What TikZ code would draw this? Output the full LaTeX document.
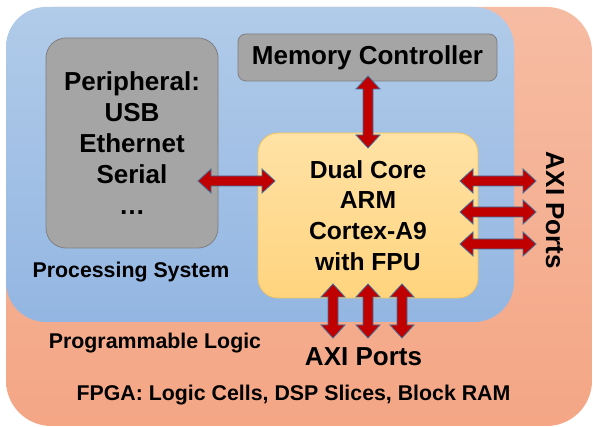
\documentclass[tikz,border=0pt]{standalone}
\usepackage{fontspec}
\setmainfont{Liberation Sans}
\usetikzlibrary{calc}

\definecolor{plorangeoben}{HTML}{F6BCA3}
\definecolor{plorangeunten}{HTML}{F4A685}
\definecolor{psblauoben}{HTML}{B1CBE9}
\definecolor{psblauunten}{HTML}{93B6E2}
\definecolor{boxgrau}{HTML}{A5A5A5}
\definecolor{boxrand}{HTML}{7F7F7F}
\definecolor{cpugelboben}{HTML}{FFE2A6}
\definecolor{cpugelbunten}{HTML}{FFD47E}
\definecolor{cpurand}{HTML}{F2C45E}
\definecolor{pfeilrot}{HTML}{C00000}
\definecolor{pfeilrand}{HTML}{41719C}

\newcommand{\grossfont}{\fontsize{19.5}{23.25}\selectfont\bfseries}
\newcommand{\kleinfont}{\fontsize{16}{19}\selectfont\bfseries}

\tikzset{
  graubox/.style={draw=boxrand, line width=0.6pt, fill=boxgrau, align=center, font=\grossfont},
  cpubox/.style={draw=cpurand, line width=0.6pt, top color=cpugelboben, bottom color=cpugelbunten,
    rounded corners=15pt, align=center, font=\fontsize{18.5}{23}\selectfont\bfseries},
  pfeil/.style={draw=pfeilrand, fill=pfeilrot, line width=0.6pt, line join=miter},
  label/.style={font=\kleinfont},
}

% Blockpfeil mit zwei Spitzen zwischen zwei Punkten
\newcommand{\blockpfeil}[2]{%
  \filldraw[pfeil] (#1)
    -- ($(#1)!9.75pt!(#2)!9pt!90:(#2)$) -- ($(#1)!9.75pt!(#2)!3.75pt!90:(#2)$)
    -- ($(#2)!9.75pt!(#1)!3.75pt!-90:(#1)$) -- ($(#2)!9.75pt!(#1)!9pt!-90:(#1)$)
    -- (#2)
    -- ($(#2)!9.75pt!(#1)!9pt!90:(#1)$) -- ($(#2)!9.75pt!(#1)!3.75pt!90:(#1)$)
    -- ($(#1)!9.75pt!(#2)!3.75pt!-90:(#2)$) -- ($(#1)!9.75pt!(#2)!9pt!-90:(#2)$)
    -- cycle;}

\begin{document}
\begin{tikzpicture}[x=0.75pt, y=-0.75pt]
    \useasboundingbox (0,0) rectangle (593,427);

    % Programmable Logic
    \shade[top color=plorangeoben, bottom color=plorangeunten, rounded corners=34pt]
        (6,7) rectangle (592,426);

    % Processing System
    \shade[top color=psblauoben, bottom color=psblauunten, rounded corners=30pt]
        (6,7) rectangle (514,322);

    % Bloecke
    \node[graubox, rounded corners=15pt, minimum width=129pt, minimum height=157.5pt] (peri) at (132,143)
        {Peripheral:\\USB\\Ethernet\\Serial\\…};
    \node[graubox, rounded corners=6pt, minimum width=194.25pt, minimum height=35.25pt] (memc) at (367.5,57.5)
        {Memory Controller};
    \node[cpubox, minimum width=165pt, minimum height=123.75pt] (cpu) at (368,215.5)
        {Dual Core\\ARM\\Cortex-A9\\with FPU};

    % Endpunkte der Pfeile
    \coordinate (p1a) at (198,181);  \coordinate (p1b) at (275,181);
    \coordinate (m1a) at (368,76);   \coordinate (m1b) at (368,148);
    \coordinate (r1a) at (460,181);  \coordinate (r1b) at (536,181);
    \coordinate (r2a) at (460,212);  \coordinate (r2b) at (536,212);
    \coordinate (r3a) at (460,244);  \coordinate (r3b) at (536,244);
    \coordinate (u1a) at (333,284);  \coordinate (u1b) at (333,338);
    \coordinate (u2a) at (368,284);  \coordinate (u2b) at (368,338);
    \coordinate (u3a) at (402,284);  \coordinate (u3b) at (402,338);

    % Pfeile
    \blockpfeil{p1a}{p1b}
    \blockpfeil{m1a}{m1b}
    \blockpfeil{r1a}{r1b}
    \blockpfeil{r2a}{r2b}
    \blockpfeil{r3a}{r3b}
    \blockpfeil{u1a}{u1b}
    \blockpfeil{u2a}{u2b}
    \blockpfeil{u3a}{u3b}

    % Beschriftungen
    \node[label] (ps) at (131,272) {Processing System};
    \node[label] (pl) at (155,343) {Programmable Logic};
    \node[label] (fpga) at (293.5,395) {FPGA: Logic Cells, DSP Slices, Block RAM};
    \node[font=\grossfont] (axiu) at (363.5,357) {AXI Ports};
    \node[font=\grossfont, rotate=-90] (axir) at (555,210.5) {AXI Ports};
\end{tikzpicture}
\end{document}
